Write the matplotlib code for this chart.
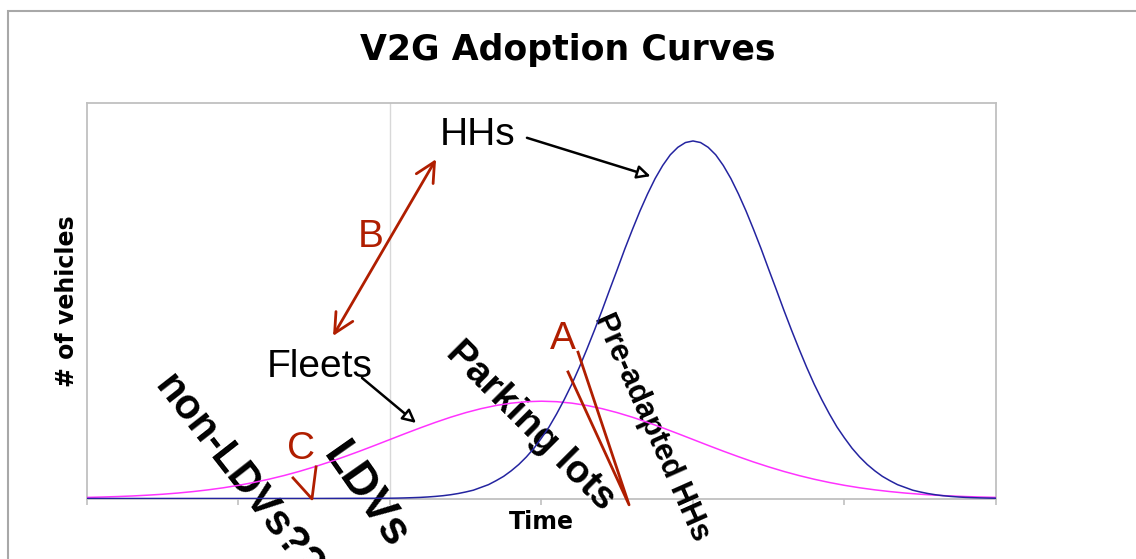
import numpy as np
import matplotlib.pyplot as plt
from matplotlib.patches import Rectangle

# time axis (arbitrary units, 0..6)
time = np.linspace(0, 6, 61)
time_hh = np.concatenate([[0.0, 1.5], np.linspace(2, 6, 81)])

fleets = [0.27, 0.37, 0.49, 0.64, 0.84, 1.08, 1.38, 1.75, 2.19, 2.71,
          3.33, 4.05, 4.87, 5.80, 6.84, 7.99, 9.23, 10.57, 11.97, 13.43,
          14.92, 16.41, 17.86, 19.25, 20.55, 21.71, 22.71, 23.52, 24.11, 24.48,
          24.6,
          24.48, 24.11, 23.52, 22.71, 21.71, 20.55, 19.25, 17.86, 16.41, 14.92,
          13.43, 11.97, 10.57, 9.23, 7.99, 6.84, 5.80, 4.87, 4.05, 3.33,
          2.71, 2.19, 1.75, 1.38, 1.08, 0.84, 0.64, 0.49, 0.37, 0.27]

households = [0.0, 0.01,
              0.07, 0.10, 0.15, 0.21, 0.28, 0.39, 0.53, 0.71, 0.95, 1.26,
              1.65, 2.1, 2.8, 3.5, 4.5, 5.6, 7.0, 8.6, 10.5, 12.7,
              15.3, 18.1, 21.4, 25.0, 28.9, 33.2, 37.8, 42.6, 47.6, 52.8,
              57.9, 63.1, 68.0, 72.7, 77.0, 80.9, 84.2, 86.9, 88.8, 90.0,
              90.4,
              90.0, 88.8, 86.9, 84.2, 80.9, 77.0, 72.7, 68.0, 63.1, 57.9,
              52.8, 47.6, 42.6, 37.8, 33.2, 28.9, 25.0, 21.4, 18.1, 15.3,
              12.7, 10.5, 8.6, 7.0, 5.6, 4.5, 3.5, 2.8, 2.1, 1.65,
              1.26, 0.95, 0.71, 0.53, 0.39, 0.28, 0.21, 0.15, 0.10, 0.07]

red = '#b01e00'
sans = 'Liberation Sans'

fig = plt.figure(figsize=(11.36, 5.59), dpi=100)
ax = fig.add_axes([87 / 1136, 1 - 498.5 / 559, 909 / 1136, 395.5 / 559])

ax.plot(time, fleets, color='#ff33ff', lw=1.1, zorder=4)
ax.plot(time_hh, households, color='#2424a0', lw=1.1, zorder=4)

ax.set_xlim(0, 6)
ax.set_ylim(0, 100)
ax.set_xticks(np.arange(0, 7))
ax.set_xticklabels([])
ax.set_yticks([])
ax.tick_params(axis='x', direction='out', length=4.5, color='#c0c0c0', width=1.2)
for s in ax.spines.values():
    s.set_color('#c0c0c0')
    s.set_linewidth(1.3)
ax.axvline(2, color='#d8d8d8', lw=1, zorder=1)

ax.set_xlabel('Time', fontsize=17, fontweight='bold', labelpad=0)
ax.set_ylabel('# of vehicles', fontsize=17, fontweight='bold', labelpad=6)
fig.text(0.5, 1 - 50 / 559, 'V2G Adoption Curves', ha='center', va='center',
         fontsize=25, fontweight='bold')

# outer frame
fig.patches.append(Rectangle((8 / 1136, -0.1), 1.2, 1.1 - 10.5 / 559,
                             transform=fig.transFigure, fill=False,
                             ec='#a8a8a8', lw=1.5))

# labels with arrows
ax.text(2.33, 89.4, 'HHs', family=sans, fontsize=28, va='baseline')
ax.annotate('', xy=(3.72, 81.5), xytext=(2.904, 91.2),
            arrowprops=dict(arrowstyle='-|>', fc='white', ec='black', lw=1.8,
                            mutation_scale=20, shrinkA=0, shrinkB=0))
ax.text(1.188, 30.7, 'Fleets', family=sans, fontsize=28, va='baseline')
ax.annotate('', xy=(2.172, 19.1), xytext=(1.815, 30.5),
            arrowprops=dict(arrowstyle='-|>', fc='white', ec='black', lw=1.8,
                            mutation_scale=20, shrinkA=0, shrinkB=0))

ax.text(1.789, 63.6, 'B', family=sans, fontsize=28, va='baseline', color=red)
ax.annotate('', xy=(2.304, 85.8), xytext=(1.624, 41.1),
            arrowprops=dict(arrowstyle='<->,head_length=0.7,head_width=0.35', color=red,
                            lw=2, mutation_scale=20, shrinkA=0, shrinkB=0))

ax.text(3.056, 37.8, 'A', family=sans, fontsize=28, va='baseline', color=red)
ax.plot([3.175, 3.578, 3.241], [32.0, -1.6, 37.0], color=red, lw=2,
        clip_on=False, zorder=5)

ax.text(1.32, 10.0, 'C', family=sans, fontsize=28, va='baseline', color=red)
ax.plot([1.360, 1.485, 1.512], [5.2, -0.1, 8.0], color=red, lw=2,
        clip_on=False, zorder=5)

# rotated segment labels
rot_kw = dict(family=sans, fontweight='bold', ha='center', va='center',
              rotation_mode='anchor', clip_on=False, zorder=3)
ax.text(0.997, 5.4, 'non-LDVs??', fontsize=30, rotation=-52, **rot_kw)
ax.text(1.838, 0.5, 'LDVs', fontsize=33, rotation=-55, **rot_kw)
ax.text(2.924, 18.3, 'Parking lots', fontsize=28, rotation=-45, **rot_kw)
ax.text(3.726, 18.0, 'Pre-adapted HHs', fontsize=22, rotation=-66, **rot_kw)

fig.savefig('out.png', dpi=100)
